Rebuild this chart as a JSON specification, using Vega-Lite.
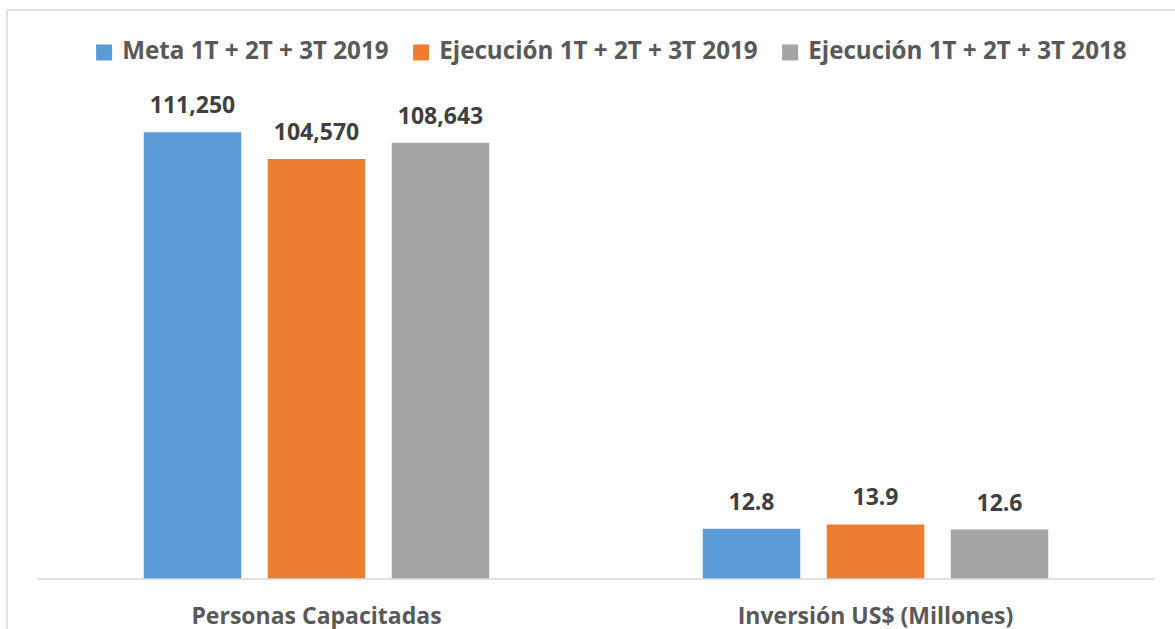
{
  "$schema": "https://vega.github.io/schema/vega-lite/v6.json",
  "width": 1168,
  "height": 619,
  "autosize": {"type": "none"},
  "padding": {"left": 7, "top": 10, "right": 0, "bottom": 0},
  "background": "white",
  "config": {
    "view": {"stroke": "#d9d9d9", "strokeWidth": 1.5, "strokeDash": [1168, 1787, 619, 10]},
    "font": "Open Sans"
  },
  "datasets": {
    "personas": [
      {"categoria": "Personas Capacitadas", "serie": "Meta 1T + 2T + 3T 2019", "valor": 111250},
      {"categoria": "Personas Capacitadas", "serie": "Ejecución 1T + 2T + 3T 2019", "valor": 104570},
      {"categoria": "Personas Capacitadas", "serie": "Ejecución 1T + 2T + 3T 2018", "valor": 108643}
    ],
    "inversion": [
      {"categoria": "Inversión US$ (Millones)", "serie": "Meta 1T + 2T + 3T 2019", "valor": 12.8},
      {"categoria": "Inversión US$ (Millones)", "serie": "Ejecución 1T + 2T + 3T 2019", "valor": 13.9},
      {"categoria": "Inversión US$ (Millones)", "serie": "Ejecución 1T + 2T + 3T 2018", "valor": 12.6}
    ],
    "base": [{"linea": "eje"}]
  },
  "layer": [
    {
      "data": {"name": "personas"},
      "encoding": {
        "x": {
          "field": "categoria",
          "type": "nominal",
          "scale": {"domain": ["Personas Capacitadas", "Inversión US$ (Millones)"], "paddingInner": 0, "paddingOuter": 0.0447, "align": 0.6},
          "axis": {
            "title": null, "orient": "bottom", "offset": -50, "domain": false, "ticks": false,
            "labelPadding": 26, "labelFontSize": 23, "labelFontWeight": "bold", "labelColor": "#595959",
            "labelAngle": 0, "labelFont": "Open Sans", "labelLimit": 600
          }
        },
        "xOffset": {
          "field": "serie",
          "type": "nominal",
          "scale": {"domain": ["Meta 1T + 2T + 3T 2019", "Ejecución 1T + 2T + 3T 2019", "Ejecución 1T + 2T + 3T 2018"], "paddingInner": 0.214, "paddingOuter": 0.861}
        },
        "y": {"field": "valor", "type": "quantitative", "axis": null, "scale": {"domain": [-12450, 141681], "nice": false, "zero": false}}
      },
      "layer": [
        {
          "mark": {"type": "bar"},
          "encoding": {
            "color": {
              "field": "serie", "type": "nominal",
              "scale": {"domain": ["Meta 1T + 2T + 3T 2019", "Ejecución 1T + 2T + 3T 2019", "Ejecución 1T + 2T + 3T 2018"], "range": ["#5b9bd5", "#ed7d31", "#a5a5a5"]},
              "legend": {
                "title": null, "orient": "none", "legendX": 85, "legendY": 30, "direction": "horizontal",
                "symbolType": "square", "symbolSize": 256, "symbolStrokeWidth": 0, "symbolOpacity": 1,
                "labelFontSize": 24.2, "labelFont": "Open Sans", "labelFontWeight": "bold", "labelColor": "#595959",
                "labelOffset": 6, "columnPadding": 20, "padding": 0, "labelLimit": 500
              }
            }
          }
        },
        {
          "mark": {"type": "text", "fontSize": 23, "fontWeight": "bold", "color": "#404040", "baseline": "alphabetic", "dy": -19, "font": "Open Sans"},
          "encoding": {"text": {"field": "valor", "type": "quantitative", "format": ",.0f"}}
        }
      ]
    },
    {
      "data": {"name": "inversion"},
      "encoding": {
        "x": {"field": "categoria", "type": "nominal"},
        "xOffset": {"field": "serie", "type": "nominal"},
        "y": {"field": "valor", "type": "quantitative", "axis": null, "scale": {"domain": [-12.75, 145.1], "nice": false, "zero": false}}
      },
      "layer": [
        {
          "mark": {"type": "bar"},
          "encoding": {
            "color": {"field": "serie", "type": "nominal"}
          }
        },
        {
          "mark": {"type": "text", "fontSize": 23, "fontWeight": "bold", "color": "#404040", "baseline": "alphabetic", "dy": -19, "font": "Open Sans"},
          "encoding": {"text": {"field": "valor", "type": "quantitative", "format": ".1f"}}
        }
      ]
    },
    {
      "data": {"name": "base"},
      "mark": {"type": "rule", "color": "#d9d9d9", "strokeWidth": 1.5},
      "encoding": {
        "x": {"datum": "Personas Capacitadas", "type": "nominal", "bandPosition": 0},
        "x2": {"datum": "Inversión US$ (Millones)", "bandPosition": 1},
        "y": {"datum": 0, "type": "quantitative", "axis": null, "scale": {"domain": [-12450, 141681], "nice": false, "zero": false}}
      }
    }
  ],
  "resolve": {"scale": {"y": "independent"}}
}
